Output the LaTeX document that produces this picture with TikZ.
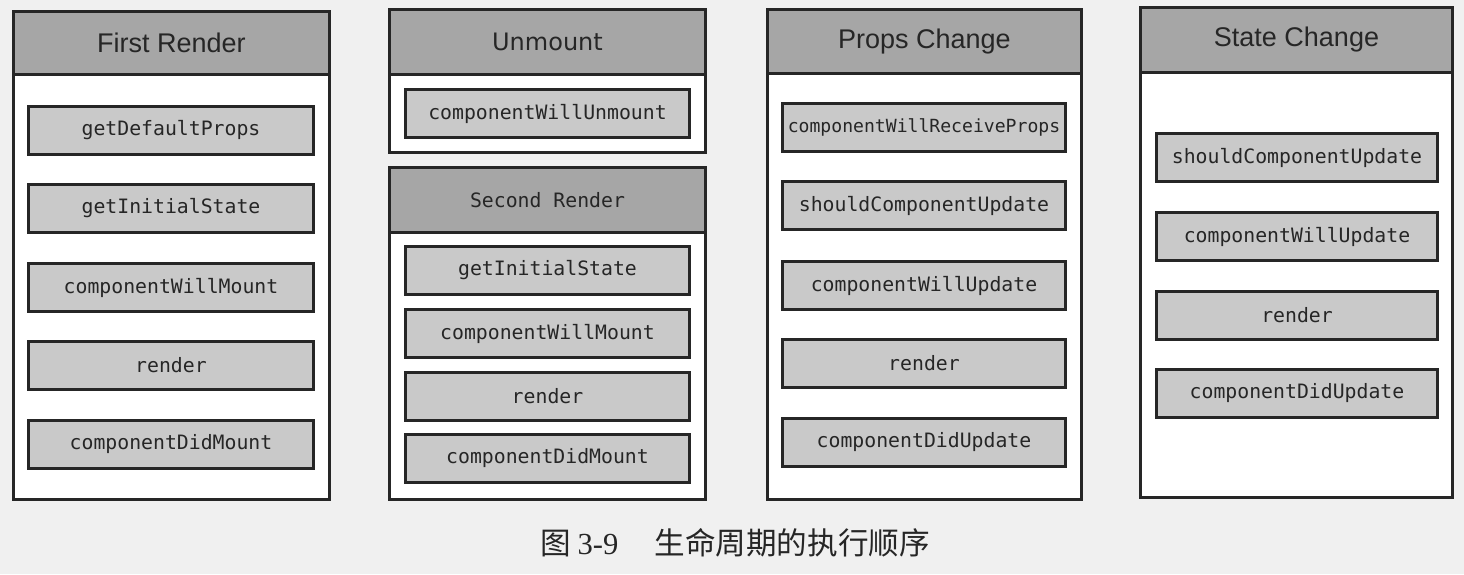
\documentclass[tikz,border=0pt]{standalone}
\usepackage{fontspec}
\setmainfont{Liberation Sans}
\newfontfamily\monofont{DejaVu Sans Mono}
\newfontfamily\unmountfont{DejaVu Sans}
\newfontfamily\cjkfont{Noto Sans CJK SC}
\newfontfamily\numfont{Liberation Serif}

\tikzset{
  panel/.style={draw=black!85, line width=3pt, fill=white, anchor=north west, inner sep=0pt},
  head/.style={panel, fill=black!35, text=black!85, font=\fontsize{27}{30}\selectfont},
  call/.style={panel, fill=black!21, text=black!85, minimum height=48pt, font=\monofont\fontsize{19.8}{22}\selectfont}
}

\begin{document}
\begin{tikzpicture}[x=1pt, y=-1pt]
      \fill[black!6] (0,0) rectangle (1464,574);

      \node[panel, minimum width=316pt, minimum height=488pt] (first) at (12,10) {};
      \node[head, minimum width=316pt, minimum height=63pt] (firsthead) at (12,10) {First Render};
      \foreach \y/\name [count=\i] in {105/getDefaultProps, 183/getInitialState, 262/componentWillMount, 340/render, 419/componentDidMount}{
         \node[call, minimum width=285pt] (first\i) at (27,\y) {\name};
      }

      \node[panel, minimum width=316pt, minimum height=143pt] (unmount) at (388,8) {};
      \node[head, minimum width=316pt, minimum height=65pt, font=\unmountfont\fontsize{24}{28}\selectfont] (unmounthead) at (388,8) {Unmount};
      \node[call, minimum width=284pt] (unmount1) at (404,88) {componentWillUnmount};

      \node[panel, minimum width=316pt, minimum height=332pt] (second) at (388,166) {};
      \node[head, minimum width=316pt, minimum height=65pt, font=\monofont\fontsize{19.8}{22}\selectfont] (secondhead) at (388,166) {Second Render};
      \foreach \y/\name [count=\i] in {245/getInitialState, 308/componentWillMount, 371/render, 433/componentDidMount}{
         \node[call, minimum width=284pt] (second\i) at (404,\y) {\name};
      }

      \node[panel, minimum width=314pt, minimum height=490pt] (props) at (766,8) {};
      \node[head, minimum width=314pt, minimum height=64pt] (propshead) at (766,8) {Props Change};
      \node[call, minimum width=283pt, font=\monofont\fontsize{18.1}{20}\selectfont] (props1) at (781,102) {componentWillReceiveProps};
      \foreach \y/\name [count=\i from 2] in {180/shouldComponentUpdate, 260/componentWillUpdate, 338/render, 417/componentDidUpdate}{
         \node[call, minimum width=283pt] (props\i) at (781,\y) {\name};
      }

      \node[panel, minimum width=312pt, minimum height=490pt] (state) at (1139,6) {};
      \node[head, minimum width=312pt, minimum height=65pt] (statehead) at (1139,6) {State Change};
      \foreach \y/\name [count=\i] in {132/shouldComponentUpdate, 211/componentWillUpdate, 290/render, 368/componentDidUpdate}{
         \node[call, minimum width=281pt] (state\i) at (1155,\y) {\name};
      }

      \node[text=black!85, font=\cjkfont\fontsize{30.6}{34}\selectfont] (caption) at (735,543) {图 {\numfont 3-9}\hspace{36pt}生命周期的执行顺序};
\end{tikzpicture}
\end{document}
